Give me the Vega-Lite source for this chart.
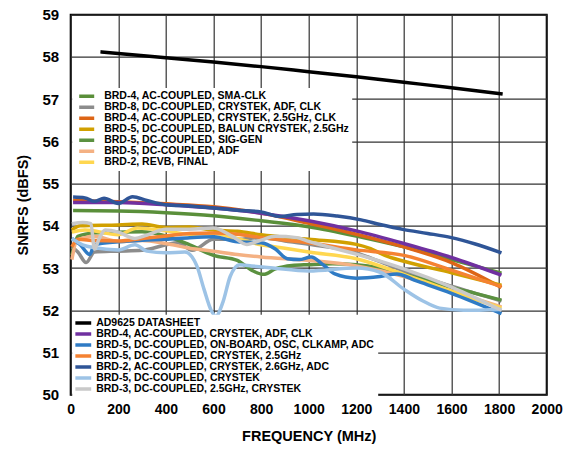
{
  "$schema": "https://vega.github.io/schema/vega-lite/v6.json",
  "width": 476,
  "height": 380,
  "autosize": "none",
  "padding": {"left": 70.7, "top": 14.7, "right": 29.3, "bottom": 56.3},
  "background": "white",
  "config": {
    "view": {"stroke": "black", "strokeWidth": 2},
    "font": "Liberation Sans",
    "line": {"strokeWidth": 3.5, "interpolate": "monotone"}
  },
  "datasets": {
    "top": [
      {"s": "BRD-4, AC-COUPLED, SMA-CLK", "f": 10, "v": 54.36},
      {"s": "BRD-4, AC-COUPLED, SMA-CLK", "f": 200, "v": 54.35},
      {"s": "BRD-4, AC-COUPLED, SMA-CLK", "f": 400, "v": 54.31},
      {"s": "BRD-4, AC-COUPLED, SMA-CLK", "f": 600, "v": 54.24},
      {"s": "BRD-4, AC-COUPLED, SMA-CLK", "f": 800, "v": 54.12},
      {"s": "BRD-4, AC-COUPLED, SMA-CLK", "f": 1000, "v": 53.98},
      {"s": "BRD-4, AC-COUPLED, SMA-CLK", "f": 1200, "v": 53.76},
      {"s": "BRD-4, AC-COUPLED, SMA-CLK", "f": 1400, "v": 53.5},
      {"s": "BRD-4, AC-COUPLED, SMA-CLK", "f": 1600, "v": 53.2},
      {"s": "BRD-4, AC-COUPLED, SMA-CLK", "f": 1810, "v": 52.88},

      {"s": "BRD-8, DC-COUPLED, CRYSTEK, ADF, CLK", "f": 5, "v": 53.5},
      {"s": "BRD-8, DC-COUPLED, CRYSTEK, ADF, CLK", "f": 30, "v": 53.38},
      {"s": "BRD-8, DC-COUPLED, CRYSTEK, ADF, CLK", "f": 65, "v": 53.13},
      {"s": "BRD-8, DC-COUPLED, CRYSTEK, ADF, CLK", "f": 100, "v": 53.38},
      {"s": "BRD-8, DC-COUPLED, CRYSTEK, ADF, CLK", "f": 200, "v": 53.4},
      {"s": "BRD-8, DC-COUPLED, CRYSTEK, ADF, CLK", "f": 300, "v": 53.42},
      {"s": "BRD-8, DC-COUPLED, CRYSTEK, ADF, CLK", "f": 400, "v": 53.55},
      {"s": "BRD-8, DC-COUPLED, CRYSTEK, ADF, CLK", "f": 450, "v": 53.6},
      {"s": "BRD-8, DC-COUPLED, CRYSTEK, ADF, CLK", "f": 510, "v": 53.42},
      {"s": "BRD-8, DC-COUPLED, CRYSTEK, ADF, CLK", "f": 600, "v": 53.68},
      {"s": "BRD-8, DC-COUPLED, CRYSTEK, ADF, CLK", "f": 700, "v": 53.68},
      {"s": "BRD-8, DC-COUPLED, CRYSTEK, ADF, CLK", "f": 800, "v": 53.72},
      {"s": "BRD-8, DC-COUPLED, CRYSTEK, ADF, CLK", "f": 900, "v": 53.64},
      {"s": "BRD-8, DC-COUPLED, CRYSTEK, ADF, CLK", "f": 1000, "v": 53.56},
      {"s": "BRD-8, DC-COUPLED, CRYSTEK, ADF, CLK", "f": 1200, "v": 53.36},
      {"s": "BRD-8, DC-COUPLED, CRYSTEK, ADF, CLK", "f": 1300, "v": 53.15},
      {"s": "BRD-8, DC-COUPLED, CRYSTEK, ADF, CLK", "f": 1400, "v": 52.93},
      {"s": "BRD-8, DC-COUPLED, CRYSTEK, ADF, CLK", "f": 1600, "v": 52.57},
      {"s": "BRD-8, DC-COUPLED, CRYSTEK, ADF, CLK", "f": 1810, "v": 52.22},

      {"s": "BRD-4, AC-COUPLED, CRYSTEK, 2.5GHz, CLK", "f": 10, "v": 54.6},
      {"s": "BRD-4, AC-COUPLED, CRYSTEK, 2.5GHz, CLK", "f": 200, "v": 54.57},
      {"s": "BRD-4, AC-COUPLED, CRYSTEK, 2.5GHz, CLK", "f": 400, "v": 54.52},
      {"s": "BRD-4, AC-COUPLED, CRYSTEK, 2.5GHz, CLK", "f": 600, "v": 54.45},
      {"s": "BRD-4, AC-COUPLED, CRYSTEK, 2.5GHz, CLK", "f": 800, "v": 54.3},
      {"s": "BRD-4, AC-COUPLED, CRYSTEK, 2.5GHz, CLK", "f": 1000, "v": 54.06},
      {"s": "BRD-4, AC-COUPLED, CRYSTEK, 2.5GHz, CLK", "f": 1200, "v": 53.8},
      {"s": "BRD-4, AC-COUPLED, CRYSTEK, 2.5GHz, CLK", "f": 1400, "v": 53.5},
      {"s": "BRD-4, AC-COUPLED, CRYSTEK, 2.5GHz, CLK", "f": 1600, "v": 53.13},
      {"s": "BRD-4, AC-COUPLED, CRYSTEK, 2.5GHz, CLK", "f": 1810, "v": 52.54},

      {"s": "BRD-5, DC-COUPLED, BALUN CRYSTEK, 2.5GHz", "f": 5, "v": 53.9},
      {"s": "BRD-5, DC-COUPLED, BALUN CRYSTEK, 2.5GHz", "f": 40, "v": 54.0},
      {"s": "BRD-5, DC-COUPLED, BALUN CRYSTEK, 2.5GHz", "f": 200, "v": 54.02},
      {"s": "BRD-5, DC-COUPLED, BALUN CRYSTEK, 2.5GHz", "f": 300, "v": 54.04},
      {"s": "BRD-5, DC-COUPLED, BALUN CRYSTEK, 2.5GHz", "f": 400, "v": 53.96},
      {"s": "BRD-5, DC-COUPLED, BALUN CRYSTEK, 2.5GHz", "f": 500, "v": 53.97},
      {"s": "BRD-5, DC-COUPLED, BALUN CRYSTEK, 2.5GHz", "f": 600, "v": 53.9},
      {"s": "BRD-5, DC-COUPLED, BALUN CRYSTEK, 2.5GHz", "f": 700, "v": 53.87},
      {"s": "BRD-5, DC-COUPLED, BALUN CRYSTEK, 2.5GHz", "f": 800, "v": 53.79},
      {"s": "BRD-5, DC-COUPLED, BALUN CRYSTEK, 2.5GHz", "f": 1000, "v": 53.68},
      {"s": "BRD-5, DC-COUPLED, BALUN CRYSTEK, 2.5GHz", "f": 1200, "v": 53.56},
      {"s": "BRD-5, DC-COUPLED, BALUN CRYSTEK, 2.5GHz", "f": 1260, "v": 53.46},
      {"s": "BRD-5, DC-COUPLED, BALUN CRYSTEK, 2.5GHz", "f": 1320, "v": 53.3},
      {"s": "BRD-5, DC-COUPLED, BALUN CRYSTEK, 2.5GHz", "f": 1400, "v": 53.16},
      {"s": "BRD-5, DC-COUPLED, BALUN CRYSTEK, 2.5GHz", "f": 1600, "v": 52.89},
      {"s": "BRD-5, DC-COUPLED, BALUN CRYSTEK, 2.5GHz", "f": 1810, "v": 52.59},

      {"s": "BRD-5, DC-COUPLED, SIG-GEN", "f": 5, "v": 53.3},
      {"s": "BRD-5, DC-COUPLED, SIG-GEN", "f": 30, "v": 53.75},
      {"s": "BRD-5, DC-COUPLED, SIG-GEN", "f": 100, "v": 53.83},
      {"s": "BRD-5, DC-COUPLED, SIG-GEN", "f": 200, "v": 53.85},
      {"s": "BRD-5, DC-COUPLED, SIG-GEN", "f": 300, "v": 53.86},
      {"s": "BRD-5, DC-COUPLED, SIG-GEN", "f": 400, "v": 53.76},
      {"s": "BRD-5, DC-COUPLED, SIG-GEN", "f": 500, "v": 53.55},
      {"s": "BRD-5, DC-COUPLED, SIG-GEN", "f": 600, "v": 53.3},
      {"s": "BRD-5, DC-COUPLED, SIG-GEN", "f": 700, "v": 53.18},
      {"s": "BRD-5, DC-COUPLED, SIG-GEN", "f": 760, "v": 52.95},
      {"s": "BRD-5, DC-COUPLED, SIG-GEN", "f": 810, "v": 52.85},
      {"s": "BRD-5, DC-COUPLED, SIG-GEN", "f": 860, "v": 52.98},
      {"s": "BRD-5, DC-COUPLED, SIG-GEN", "f": 930, "v": 53.06},
      {"s": "BRD-5, DC-COUPLED, SIG-GEN", "f": 1000, "v": 53.08},
      {"s": "BRD-5, DC-COUPLED, SIG-GEN", "f": 1100, "v": 53.1},
      {"s": "BRD-5, DC-COUPLED, SIG-GEN", "f": 1200, "v": 53.08},
      {"s": "BRD-5, DC-COUPLED, SIG-GEN", "f": 1300, "v": 53.0},
      {"s": "BRD-5, DC-COUPLED, SIG-GEN", "f": 1400, "v": 52.85},
      {"s": "BRD-5, DC-COUPLED, SIG-GEN", "f": 1500, "v": 52.7},
      {"s": "BRD-5, DC-COUPLED, SIG-GEN", "f": 1600, "v": 52.54},
      {"s": "BRD-5, DC-COUPLED, SIG-GEN", "f": 1700, "v": 52.4},
      {"s": "BRD-5, DC-COUPLED, SIG-GEN", "f": 1810, "v": 52.24},

      {"s": "BRD-5, DC-COUPLED, ADF", "f": 5, "v": 53.2},
      {"s": "BRD-5, DC-COUPLED, ADF", "f": 25, "v": 53.65},
      {"s": "BRD-5, DC-COUPLED, ADF", "f": 60, "v": 53.72},
      {"s": "BRD-5, DC-COUPLED, ADF", "f": 100, "v": 53.75},
      {"s": "BRD-5, DC-COUPLED, ADF", "f": 200, "v": 53.63},
      {"s": "BRD-5, DC-COUPLED, ADF", "f": 300, "v": 53.65},
      {"s": "BRD-5, DC-COUPLED, ADF", "f": 400, "v": 53.58},
      {"s": "BRD-5, DC-COUPLED, ADF", "f": 500, "v": 53.47},
      {"s": "BRD-5, DC-COUPLED, ADF", "f": 600, "v": 53.4},
      {"s": "BRD-5, DC-COUPLED, ADF", "f": 700, "v": 53.32},
      {"s": "BRD-5, DC-COUPLED, ADF", "f": 800, "v": 53.26},
      {"s": "BRD-5, DC-COUPLED, ADF", "f": 1000, "v": 53.18},
      {"s": "BRD-5, DC-COUPLED, ADF", "f": 1200, "v": 53.05},
      {"s": "BRD-5, DC-COUPLED, ADF", "f": 1400, "v": 52.8},
      {"s": "BRD-5, DC-COUPLED, ADF", "f": 1600, "v": 52.45},
      {"s": "BRD-5, DC-COUPLED, ADF", "f": 1810, "v": 52.08},

      {"s": "BRD-2, REVB, FINAL", "f": 5, "v": 53.85},
      {"s": "BRD-2, REVB, FINAL", "f": 60, "v": 53.9},
      {"s": "BRD-2, REVB, FINAL", "f": 200, "v": 53.79},
      {"s": "BRD-2, REVB, FINAL", "f": 280, "v": 53.95},
      {"s": "BRD-2, REVB, FINAL", "f": 400, "v": 53.88},
      {"s": "BRD-2, REVB, FINAL", "f": 500, "v": 53.8},
      {"s": "BRD-2, REVB, FINAL", "f": 600, "v": 53.82},
      {"s": "BRD-2, REVB, FINAL", "f": 700, "v": 53.7},
      {"s": "BRD-2, REVB, FINAL", "f": 800, "v": 53.55},
      {"s": "BRD-2, REVB, FINAL", "f": 900, "v": 53.47},
      {"s": "BRD-2, REVB, FINAL", "f": 1000, "v": 53.38},
      {"s": "BRD-2, REVB, FINAL", "f": 1200, "v": 53.22},
      {"s": "BRD-2, REVB, FINAL", "f": 1400, "v": 52.85},
      {"s": "BRD-2, REVB, FINAL", "f": 1600, "v": 52.45},
      {"s": "BRD-2, REVB, FINAL", "f": 1810, "v": 52.05}
    ],
    "bottom": [
      {"s": "AD9625 DATASHEET", "f": 125, "v": 58.12},
      {"s": "AD9625 DATASHEET", "f": 200, "v": 58.08},
      {"s": "AD9625 DATASHEET", "f": 400, "v": 57.98},
      {"s": "AD9625 DATASHEET", "f": 600, "v": 57.88},
      {"s": "AD9625 DATASHEET", "f": 800, "v": 57.77},
      {"s": "AD9625 DATASHEET", "f": 1000, "v": 57.65},
      {"s": "AD9625 DATASHEET", "f": 1200, "v": 57.53},
      {"s": "AD9625 DATASHEET", "f": 1400, "v": 57.4},
      {"s": "AD9625 DATASHEET", "f": 1600, "v": 57.27},
      {"s": "AD9625 DATASHEET", "f": 1815, "v": 57.12},

      {"s": "BRD-4, AC-COUPLED, CRYSTEK, ADF, CLK", "f": 10, "v": 54.55},
      {"s": "BRD-4, AC-COUPLED, CRYSTEK, ADF, CLK", "f": 200, "v": 54.55},
      {"s": "BRD-4, AC-COUPLED, CRYSTEK, ADF, CLK", "f": 400, "v": 54.5},
      {"s": "BRD-4, AC-COUPLED, CRYSTEK, ADF, CLK", "f": 600, "v": 54.42},
      {"s": "BRD-4, AC-COUPLED, CRYSTEK, ADF, CLK", "f": 800, "v": 54.3},
      {"s": "BRD-4, AC-COUPLED, CRYSTEK, ADF, CLK", "f": 1000, "v": 54.12},
      {"s": "BRD-4, AC-COUPLED, CRYSTEK, ADF, CLK", "f": 1200, "v": 53.88},
      {"s": "BRD-4, AC-COUPLED, CRYSTEK, ADF, CLK", "f": 1400, "v": 53.58},
      {"s": "BRD-4, AC-COUPLED, CRYSTEK, ADF, CLK", "f": 1600, "v": 53.25},
      {"s": "BRD-4, AC-COUPLED, CRYSTEK, ADF, CLK", "f": 1810, "v": 52.83},

      {"s": "BRD-5, DC-COUPLED, ON-BOARD, OSC, CLKAMP, ADC", "f": 5, "v": 53.7},
      {"s": "BRD-5, DC-COUPLED, ON-BOARD, OSC, CLKAMP, ADC", "f": 40, "v": 53.55},
      {"s": "BRD-5, DC-COUPLED, ON-BOARD, OSC, CLKAMP, ADC", "f": 80, "v": 53.32},
      {"s": "BRD-5, DC-COUPLED, ON-BOARD, OSC, CLKAMP, ADC", "f": 100, "v": 53.55},
      {"s": "BRD-5, DC-COUPLED, ON-BOARD, OSC, CLKAMP, ADC", "f": 200, "v": 53.62},
      {"s": "BRD-5, DC-COUPLED, ON-BOARD, OSC, CLKAMP, ADC", "f": 300, "v": 53.66},
      {"s": "BRD-5, DC-COUPLED, ON-BOARD, OSC, CLKAMP, ADC", "f": 400, "v": 53.68},
      {"s": "BRD-5, DC-COUPLED, ON-BOARD, OSC, CLKAMP, ADC", "f": 500, "v": 53.72},
      {"s": "BRD-5, DC-COUPLED, ON-BOARD, OSC, CLKAMP, ADC", "f": 600, "v": 53.74},
      {"s": "BRD-5, DC-COUPLED, ON-BOARD, OSC, CLKAMP, ADC", "f": 700, "v": 53.62},
      {"s": "BRD-5, DC-COUPLED, ON-BOARD, OSC, CLKAMP, ADC", "f": 800, "v": 53.6},
      {"s": "BRD-5, DC-COUPLED, ON-BOARD, OSC, CLKAMP, ADC", "f": 860, "v": 53.45},
      {"s": "BRD-5, DC-COUPLED, ON-BOARD, OSC, CLKAMP, ADC", "f": 910, "v": 53.22},
      {"s": "BRD-5, DC-COUPLED, ON-BOARD, OSC, CLKAMP, ADC", "f": 960, "v": 53.2},
      {"s": "BRD-5, DC-COUPLED, ON-BOARD, OSC, CLKAMP, ADC", "f": 1010, "v": 53.26},
      {"s": "BRD-5, DC-COUPLED, ON-BOARD, OSC, CLKAMP, ADC", "f": 1060, "v": 53.08},
      {"s": "BRD-5, DC-COUPLED, ON-BOARD, OSC, CLKAMP, ADC", "f": 1110, "v": 52.86},
      {"s": "BRD-5, DC-COUPLED, ON-BOARD, OSC, CLKAMP, ADC", "f": 1200, "v": 52.76},
      {"s": "BRD-5, DC-COUPLED, ON-BOARD, OSC, CLKAMP, ADC", "f": 1300, "v": 52.8},
      {"s": "BRD-5, DC-COUPLED, ON-BOARD, OSC, CLKAMP, ADC", "f": 1370, "v": 52.86},
      {"s": "BRD-5, DC-COUPLED, ON-BOARD, OSC, CLKAMP, ADC", "f": 1450, "v": 52.7},
      {"s": "BRD-5, DC-COUPLED, ON-BOARD, OSC, CLKAMP, ADC", "f": 1600, "v": 52.4},
      {"s": "BRD-5, DC-COUPLED, ON-BOARD, OSC, CLKAMP, ADC", "f": 1810, "v": 51.92},

      {"s": "BRD-5, DC-COUPLED, CRYSTEK, 2.5GHz", "f": 5, "v": 53.5},
      {"s": "BRD-5, DC-COUPLED, CRYSTEK, 2.5GHz", "f": 30, "v": 53.68},
      {"s": "BRD-5, DC-COUPLED, CRYSTEK, 2.5GHz", "f": 100, "v": 53.65},
      {"s": "BRD-5, DC-COUPLED, CRYSTEK, 2.5GHz", "f": 200, "v": 53.64},
      {"s": "BRD-5, DC-COUPLED, CRYSTEK, 2.5GHz", "f": 300, "v": 53.7},
      {"s": "BRD-5, DC-COUPLED, CRYSTEK, 2.5GHz", "f": 400, "v": 53.76},
      {"s": "BRD-5, DC-COUPLED, CRYSTEK, 2.5GHz", "f": 500, "v": 53.82},
      {"s": "BRD-5, DC-COUPLED, CRYSTEK, 2.5GHz", "f": 600, "v": 53.83},
      {"s": "BRD-5, DC-COUPLED, CRYSTEK, 2.5GHz", "f": 700, "v": 53.8},
      {"s": "BRD-5, DC-COUPLED, CRYSTEK, 2.5GHz", "f": 800, "v": 53.72},
      {"s": "BRD-5, DC-COUPLED, CRYSTEK, 2.5GHz", "f": 1000, "v": 53.6},
      {"s": "BRD-5, DC-COUPLED, CRYSTEK, 2.5GHz", "f": 1200, "v": 53.43},
      {"s": "BRD-5, DC-COUPLED, CRYSTEK, 2.5GHz", "f": 1400, "v": 53.3},
      {"s": "BRD-5, DC-COUPLED, CRYSTEK, 2.5GHz", "f": 1600, "v": 52.95},
      {"s": "BRD-5, DC-COUPLED, CRYSTEK, 2.5GHz", "f": 1810, "v": 52.56},

      {"s": "BRD-2, AC-COUPLED, CRYSTEK, 2.6GHz, ADC", "f": 10, "v": 54.68},
      {"s": "BRD-2, AC-COUPLED, CRYSTEK, 2.6GHz, ADC", "f": 60, "v": 54.66},
      {"s": "BRD-2, AC-COUPLED, CRYSTEK, 2.6GHz, ADC", "f": 100, "v": 54.58},
      {"s": "BRD-2, AC-COUPLED, CRYSTEK, 2.6GHz, ADC", "f": 140, "v": 54.65},
      {"s": "BRD-2, AC-COUPLED, CRYSTEK, 2.6GHz, ADC", "f": 200, "v": 54.53},
      {"s": "BRD-2, AC-COUPLED, CRYSTEK, 2.6GHz, ADC", "f": 260, "v": 54.69},
      {"s": "BRD-2, AC-COUPLED, CRYSTEK, 2.6GHz, ADC", "f": 320, "v": 54.6},
      {"s": "BRD-2, AC-COUPLED, CRYSTEK, 2.6GHz, ADC", "f": 400, "v": 54.5},
      {"s": "BRD-2, AC-COUPLED, CRYSTEK, 2.6GHz, ADC", "f": 500, "v": 54.47},
      {"s": "BRD-2, AC-COUPLED, CRYSTEK, 2.6GHz, ADC", "f": 600, "v": 54.42},
      {"s": "BRD-2, AC-COUPLED, CRYSTEK, 2.6GHz, ADC", "f": 700, "v": 54.37},
      {"s": "BRD-2, AC-COUPLED, CRYSTEK, 2.6GHz, ADC", "f": 800, "v": 54.33},
      {"s": "BRD-2, AC-COUPLED, CRYSTEK, 2.6GHz, ADC", "f": 880, "v": 54.22},
      {"s": "BRD-2, AC-COUPLED, CRYSTEK, 2.6GHz, ADC", "f": 950, "v": 54.27},
      {"s": "BRD-2, AC-COUPLED, CRYSTEK, 2.6GHz, ADC", "f": 1020, "v": 54.28},
      {"s": "BRD-2, AC-COUPLED, CRYSTEK, 2.6GHz, ADC", "f": 1120, "v": 54.23},
      {"s": "BRD-2, AC-COUPLED, CRYSTEK, 2.6GHz, ADC", "f": 1220, "v": 54.14},
      {"s": "BRD-2, AC-COUPLED, CRYSTEK, 2.6GHz, ADC", "f": 1300, "v": 54.03},
      {"s": "BRD-2, AC-COUPLED, CRYSTEK, 2.6GHz, ADC", "f": 1400, "v": 53.91},
      {"s": "BRD-2, AC-COUPLED, CRYSTEK, 2.6GHz, ADC", "f": 1500, "v": 53.82},
      {"s": "BRD-2, AC-COUPLED, CRYSTEK, 2.6GHz, ADC", "f": 1600, "v": 53.72},
      {"s": "BRD-2, AC-COUPLED, CRYSTEK, 2.6GHz, ADC", "f": 1700, "v": 53.57},
      {"s": "BRD-2, AC-COUPLED, CRYSTEK, 2.6GHz, ADC", "f": 1810, "v": 53.36},

      {"s": "BRD-5, DC-COUPLED, CRYSTEK", "f": 5, "v": 53.7},
      {"s": "BRD-5, DC-COUPLED, CRYSTEK", "f": 50, "v": 53.55},
      {"s": "BRD-5, DC-COUPLED, CRYSTEK", "f": 100, "v": 53.48},
      {"s": "BRD-5, DC-COUPLED, CRYSTEK", "f": 200, "v": 53.43},
      {"s": "BRD-5, DC-COUPLED, CRYSTEK", "f": 270, "v": 53.55},
      {"s": "BRD-5, DC-COUPLED, CRYSTEK", "f": 320, "v": 53.4},
      {"s": "BRD-5, DC-COUPLED, CRYSTEK", "f": 400, "v": 53.36},
      {"s": "BRD-5, DC-COUPLED, CRYSTEK", "f": 480, "v": 53.38},
      {"s": "BRD-5, DC-COUPLED, CRYSTEK", "f": 530, "v": 53.05},
      {"s": "BRD-5, DC-COUPLED, CRYSTEK", "f": 560, "v": 52.5},
      {"s": "BRD-5, DC-COUPLED, CRYSTEK", "f": 590, "v": 52.0},
      {"s": "BRD-5, DC-COUPLED, CRYSTEK", "f": 610, "v": 51.86},
      {"s": "BRD-5, DC-COUPLED, CRYSTEK", "f": 640, "v": 52.2},
      {"s": "BRD-5, DC-COUPLED, CRYSTEK", "f": 670, "v": 52.8},
      {"s": "BRD-5, DC-COUPLED, CRYSTEK", "f": 710, "v": 53.08},
      {"s": "BRD-5, DC-COUPLED, CRYSTEK", "f": 760, "v": 53.05},
      {"s": "BRD-5, DC-COUPLED, CRYSTEK", "f": 850, "v": 53.0},
      {"s": "BRD-5, DC-COUPLED, CRYSTEK", "f": 1000, "v": 52.93},
      {"s": "BRD-5, DC-COUPLED, CRYSTEK", "f": 1200, "v": 53.0},
      {"s": "BRD-5, DC-COUPLED, CRYSTEK", "f": 1300, "v": 52.9},
      {"s": "BRD-5, DC-COUPLED, CRYSTEK", "f": 1400, "v": 52.5},
      {"s": "BRD-5, DC-COUPLED, CRYSTEK", "f": 1480, "v": 52.22},
      {"s": "BRD-5, DC-COUPLED, CRYSTEK", "f": 1550, "v": 52.05},
      {"s": "BRD-5, DC-COUPLED, CRYSTEK", "f": 1650, "v": 52.0},
      {"s": "BRD-5, DC-COUPLED, CRYSTEK", "f": 1810, "v": 52.02},

      {"s": "BRD-3, DC-COUPLED, 2.5GHz, CRYSTEK", "f": 5, "v": 54.05},
      {"s": "BRD-3, DC-COUPLED, 2.5GHz, CRYSTEK", "f": 50, "v": 54.08},
      {"s": "BRD-3, DC-COUPLED, 2.5GHz, CRYSTEK", "f": 85, "v": 54.05},
      {"s": "BRD-3, DC-COUPLED, 2.5GHz, CRYSTEK", "f": 100, "v": 53.45},
      {"s": "BRD-3, DC-COUPLED, 2.5GHz, CRYSTEK", "f": 120, "v": 53.7},
      {"s": "BRD-3, DC-COUPLED, 2.5GHz, CRYSTEK", "f": 145, "v": 53.9},
      {"s": "BRD-3, DC-COUPLED, 2.5GHz, CRYSTEK", "f": 200, "v": 53.85},
      {"s": "BRD-3, DC-COUPLED, 2.5GHz, CRYSTEK", "f": 270, "v": 53.7},
      {"s": "BRD-3, DC-COUPLED, 2.5GHz, CRYSTEK", "f": 320, "v": 53.78},
      {"s": "BRD-3, DC-COUPLED, 2.5GHz, CRYSTEK", "f": 400, "v": 53.92},
      {"s": "BRD-3, DC-COUPLED, 2.5GHz, CRYSTEK", "f": 500, "v": 53.92},
      {"s": "BRD-3, DC-COUPLED, 2.5GHz, CRYSTEK", "f": 600, "v": 53.95},
      {"s": "BRD-3, DC-COUPLED, 2.5GHz, CRYSTEK", "f": 680, "v": 53.75},
      {"s": "BRD-3, DC-COUPLED, 2.5GHz, CRYSTEK", "f": 740, "v": 53.56},
      {"s": "BRD-3, DC-COUPLED, 2.5GHz, CRYSTEK", "f": 800, "v": 53.66},
      {"s": "BRD-3, DC-COUPLED, 2.5GHz, CRYSTEK", "f": 860, "v": 53.75},
      {"s": "BRD-3, DC-COUPLED, 2.5GHz, CRYSTEK", "f": 950, "v": 53.72},
      {"s": "BRD-3, DC-COUPLED, 2.5GHz, CRYSTEK", "f": 1000, "v": 53.63},
      {"s": "BRD-3, DC-COUPLED, 2.5GHz, CRYSTEK", "f": 1200, "v": 53.33},
      {"s": "BRD-3, DC-COUPLED, 2.5GHz, CRYSTEK", "f": 1400, "v": 52.98},
      {"s": "BRD-3, DC-COUPLED, 2.5GHz, CRYSTEK", "f": 1600, "v": 52.55},
      {"s": "BRD-3, DC-COUPLED, 2.5GHz, CRYSTEK", "f": 1810, "v": 52.0}
    ]
  },
  "encoding": {
    "x": {
      "field": "f", "type": "quantitative",
      "scale": {"domain": [0, 2000], "nice": false},
      "axis": {
        "values": [0, 200, 400, 600, 800, 1000, 1200, 1400, 1600, 1800, 2000],
        "format": "d", "labelFlush": false, "labelOverlap": false,
        "grid": true, "gridColor": "#333333", "gridWidth": 1.2,
        "domain": false, "ticks": false,
        "labelFont": "Liberation Sans", "labelFontSize": 14, "labelFontWeight": "bold", "labelColor": "black",
        "labelPadding": 8,
        "title": "FREQUENCY (MHz)", "titleFont": "Liberation Sans", "titleFontSize": 14.5, "titleFontWeight": "bold", "titleColor": "black",
        "titlePadding": 13
      }
    },
    "y": {
      "field": "v", "type": "quantitative",
      "scale": {"domain": [50, 59], "nice": false, "zero": false},
      "axis": {
        "values": [50, 51, 52, 53, 54, 55, 56, 57, 58, 59],
        "labelFlush": false, "labelOverlap": false,
        "grid": true, "gridColor": "#333333", "gridWidth": 1.2,
        "domain": false, "ticks": false,
        "labelFont": "Liberation Sans", "labelFontSize": 15, "labelFontWeight": "bold", "labelColor": "black",
        "labelPadding": 12,
        "title": "SNRFS (dBFS)", "titleFont": "Liberation Sans", "titleFontSize": 14.5, "titleFontWeight": "bold", "titleColor": "black",
        "titlePadding": 12
      }
    }
  },
  "layer": [
    {
      "data": {"name": "top"},
      "mark": {"type": "line"},
      "encoding": {
        "color": {
          "field": "s", "type": "nominal",
          "scale": {
            "domain": ["BRD-4, AC-COUPLED, SMA-CLK", "BRD-8, DC-COUPLED, CRYSTEK, ADF, CLK", "BRD-4, AC-COUPLED, CRYSTEK, 2.5GHz, CLK", "BRD-5, DC-COUPLED, BALUN CRYSTEK, 2.5GHz", "BRD-5, DC-COUPLED, SIG-GEN", "BRD-5, DC-COUPLED, ADF", "BRD-2, REVB, FINAL"],
            "range": ["#5A8F3A", "#8C8C8C", "#DD6516", "#D1A000", "#5B9140", "#F4B183", "#FFD750"]
          },
          "legend": {
            "orient": "none", "legendX": 1.5, "legendY": 73.3, "title": null,
            "fillColor": "white", "padding": 3,
            "symbolType": "stroke", "symbolStrokeWidth": 4, "symbolSize": 225, "symbolOffset": 2,
            "labelFont": "Liberation Sans", "labelFontSize": 10.5, "labelFontWeight": "bold", "labelColor": "black",
            "labelLimit": 400, "labelOffset": 8, "rowPadding": 0, "clipHeight": 10.67
          }
        }
      }
    },
    {
      "data": {"name": "bottom"},
      "mark": {"type": "line"},
      "encoding": {
        "color": {
          "field": "s", "type": "nominal",
          "scale": {
            "domain": ["AD9625 DATASHEET", "BRD-4, AC-COUPLED, CRYSTEK, ADF, CLK", "BRD-5, DC-COUPLED, ON-BOARD, OSC, CLKAMP, ADC", "BRD-5, DC-COUPLED, CRYSTEK, 2.5GHz", "BRD-2, AC-COUPLED, CRYSTEK, 2.6GHz, ADC", "BRD-5, DC-COUPLED, CRYSTEK", "BRD-3, DC-COUPLED, 2.5GHz, CRYSTEK"],
            "range": ["#000000", "#7030A0", "#2F7BC5", "#F58232", "#2F5597", "#9DC3E6", "#C9C9C9"]
          },
          "legend": {
            "orient": "none", "legendX": 1.5, "legendY": 300, "title": null,
            "fillColor": "white", "padding": 3,
            "symbolType": "stroke", "symbolStrokeWidth": 4, "symbolSize": 256, "symbolOffset": -2,
            "labelFont": "Liberation Sans", "labelFontSize": 10.5, "labelFontWeight": "bold", "labelColor": "black",
            "labelLimit": 400, "labelOffset": 3, "rowPadding": 0, "clipHeight": 10.5
          }
        }
      }
    }
  ],
  "resolve": {"scale": {"color": "independent"}}
}
